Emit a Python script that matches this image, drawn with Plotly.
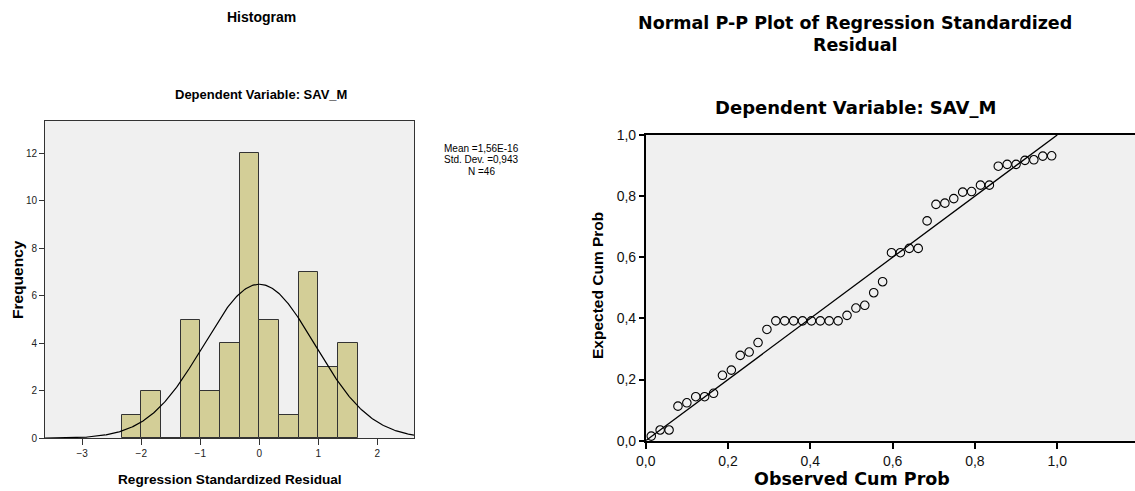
import numpy as np
import plotly.graph_objects as go

W, H = 1135, 491

# ---- Histogram of regression standardized residuals ----
bin_edges = [-2.333, -2.0, -1.667, -1.333, -1.0, -0.667, -0.333,
             0.0, 0.333, 0.667, 1.0, 1.333, 1.667]
bin_counts = [1, 2, 0, 5, 2, 4, 12, 5, 1, 7, 3, 4]
resid_mean = 1.56e-16
resid_sd = 0.943
n_obs = 46
hist_xticks = [-3, -2, -1, 0, 1, 2]
hist_yticks = [0, 2, 4, 6, 8, 10, 12]
stats_lines = ["Mean =1,56E-16", "Std. Dev. =0,943", "N =46"]

# ---- Normal P-P plot ----
observed_cum_prob = [
    0.0135, 0.0351, 0.0568, 0.0784, 0.1000, 0.1216, 0.1432, 0.1649,
    0.1865, 0.2081, 0.2297, 0.2514, 0.2730, 0.2946, 0.3162, 0.3378,
    0.3595, 0.3811, 0.4027, 0.4243, 0.4459, 0.4676, 0.4892, 0.5108,
    0.5324, 0.5541, 0.5757, 0.5973, 0.6189, 0.6405, 0.6622, 0.6838,
    0.7054, 0.7270, 0.7486, 0.7703, 0.7919, 0.8135, 0.8351, 0.8568,
    0.8784, 0.9000, 0.9216, 0.9432, 0.9649, 0.9865,
]
expected_cum_prob = [
    0.015, 0.035, 0.035, 0.113, 0.124, 0.144, 0.144, 0.155,
    0.214, 0.231, 0.279, 0.290, 0.321, 0.364, 0.392, 0.392,
    0.392, 0.392, 0.392, 0.392, 0.392, 0.392, 0.410, 0.434,
    0.443, 0.484, 0.520, 0.615, 0.615, 0.629, 0.629, 0.719,
    0.773, 0.777, 0.792, 0.813, 0.815, 0.836, 0.836, 0.898,
    0.904, 0.904, 0.917, 0.919, 0.931, 0.932,
]
pp_ticks = [0.0, 0.2, 0.4, 0.6, 0.8, 1.0]

HIST_X_RANGE = [-3.63, 2.62]
HIST_Y_RANGE = [0, 13.36]
PP_X_RANGE = [0, 1.189]
PP_Y_RANGE = [0, 1.0]

edges = np.array(bin_edges)
centers = (edges[:-1] + edges[1:]) / 2
widths = np.diff(edges)
bin_w = float(np.mean(widths))

# Normal density scaled to counts
xs = np.linspace(HIST_X_RANGE[0], HIST_X_RANGE[1], 400)
curve = n_obs * bin_w * np.exp(-0.5 * ((xs - resid_mean) / resid_sd) ** 2) / (resid_sd * np.sqrt(2 * np.pi))

fig = go.Figure()
fig.add_trace(go.Bar(
    x=centers, y=bin_counts, width=widths,
    marker=dict(color="#D3CE97", line=dict(color="#333333", width=1)),
    xaxis="x", yaxis="y", showlegend=False, hoverinfo="skip",
))
fig.add_trace(go.Scatter(
    x=xs, y=curve, mode="lines", line=dict(color="#000000", width=1.2),
    xaxis="x", yaxis="y", showlegend=False, hoverinfo="skip",
))
fig.add_trace(go.Scatter(
    x=[0, 1], y=[0, 1], mode="lines", line=dict(color="#000000", width=1.3),
    xaxis="x2", yaxis="y2", showlegend=False, hoverinfo="skip",
))
fig.add_trace(go.Scatter(
    x=observed_cum_prob, y=expected_cum_prob, mode="markers",
    marker=dict(symbol="circle-open", size=8.5, color="#000000", line=dict(width=1.1)),
    xaxis="x2", yaxis="y2", showlegend=False, cliponaxis=False,
))


def px(x):
    return x / W


def py(y):
    return 1 - y / H


arial = "Liberation Sans"
wide = "DejaVu Sans"

fig.update_layout(
    width=W, height=H,
    margin=dict(l=0, r=0, t=0, b=0),
    paper_bgcolor="#FFFFFF",
    plot_bgcolor="#F0F0F0",
    separators=",.",
    bargap=0,
    xaxis=dict(
        domain=[px(45), px(414)], range=HIST_X_RANGE, anchor="y",
        tickvals=hist_xticks, ticks="outside", ticklen=6, tickcolor="#333333",
        showline=True, mirror=True, linecolor="#333333", linewidth=1,
        showgrid=False, zeroline=False, automargin=False,
        tickfont=dict(family=arial, size=10, color="#222222"),
    ),
    yaxis=dict(
        domain=[py(438.3), py(121)], range=HIST_Y_RANGE, anchor="x",
        tickvals=hist_yticks, ticks="outside", ticklen=5, tickcolor="#333333",
        showline=True, mirror=True, linecolor="#333333", linewidth=1,
        showgrid=False, zeroline=False, automargin=False,
        tickfont=dict(family=arial, size=10, color="#222222"),
    ),
    xaxis2=dict(
        domain=[px(645.7), 1.0], range=PP_X_RANGE, anchor="y2",
        tickvals=pp_ticks, tickformat=".1f", ticks="outside", ticklen=7,
        tickcolor="#000000", tickwidth=1.5,
        showline=True, mirror=True, linecolor="#000000", linewidth=1.5,
        showgrid=False, zeroline=False, automargin=False,
        tickfont=dict(family=arial, size=14, color="#111111"),
    ),
    yaxis2=dict(
        domain=[py(440.7), py(135)], range=PP_Y_RANGE, anchor="x2",
        tickvals=pp_ticks, tickformat=".1f", ticks="outside", ticklen=5,
        tickcolor="#000000", tickwidth=1.5,
        showline=True, mirror=True, linecolor="#000000", linewidth=1.5,
        showgrid=False, zeroline=False, automargin=False,
        tickfont=dict(family=arial, size=14, color="#111111"),
    ),
)

annotations = [
    # histogram texts
    dict(text="Histogram", x=px(261), y=py(17),
         font=dict(family=arial, size=14, color="#000000", weight="bold")),
    dict(text="Dependent Variable: SAV_M", x=px(261), y=py(95),
         font=dict(family=arial, size=13, color="#000000", weight="bold")),
    dict(text="Frequency", x=px(17), y=py(280), textangle=-90,
         font=dict(family=arial, size=15.5, color="#000000", weight="bold")),
    dict(text="Regression Standardized Residual", x=px(230), y=py(479),
         font=dict(family=arial, size=13.6, color="#000000", weight="bold")),
    # P-P plot texts
    dict(text="Normal P-P Plot of Regression Standardized", x=px(855), y=py(23),
         font=dict(family=wide, size=17.5, color="#000000", weight="bold")),
    dict(text="Residual", x=px(855), y=py(44.5),
         font=dict(family=wide, size=17.5, color="#000000", weight="bold")),
    dict(text="Dependent Variable: SAV_M", x=px(855), y=py(107),
         font=dict(family=wide, size=18, color="#000000", weight="bold")),
    dict(text="Expected Cum Prob", x=px(597), y=py(286), textangle=-90,
         font=dict(family=arial, size=15.5, color="#000000", weight="bold")),
    dict(text="Observed Cum Prob", x=px(852), y=py(479),
         font=dict(family=wide, size=17.5, color="#000000", weight="bold")),
]
for i, line in enumerate(stats_lines):
    annotations.append(dict(text=line, x=px(481), y=py(148 + 11.5 * i),
                            font=dict(family=arial, size=10, color="#000000")))

for a in annotations:
    a.update(xref="paper", yref="paper", showarrow=False,
             xanchor="center", yanchor="middle")
fig.update_layout(annotations=annotations)

fig.write_html("out.html")
